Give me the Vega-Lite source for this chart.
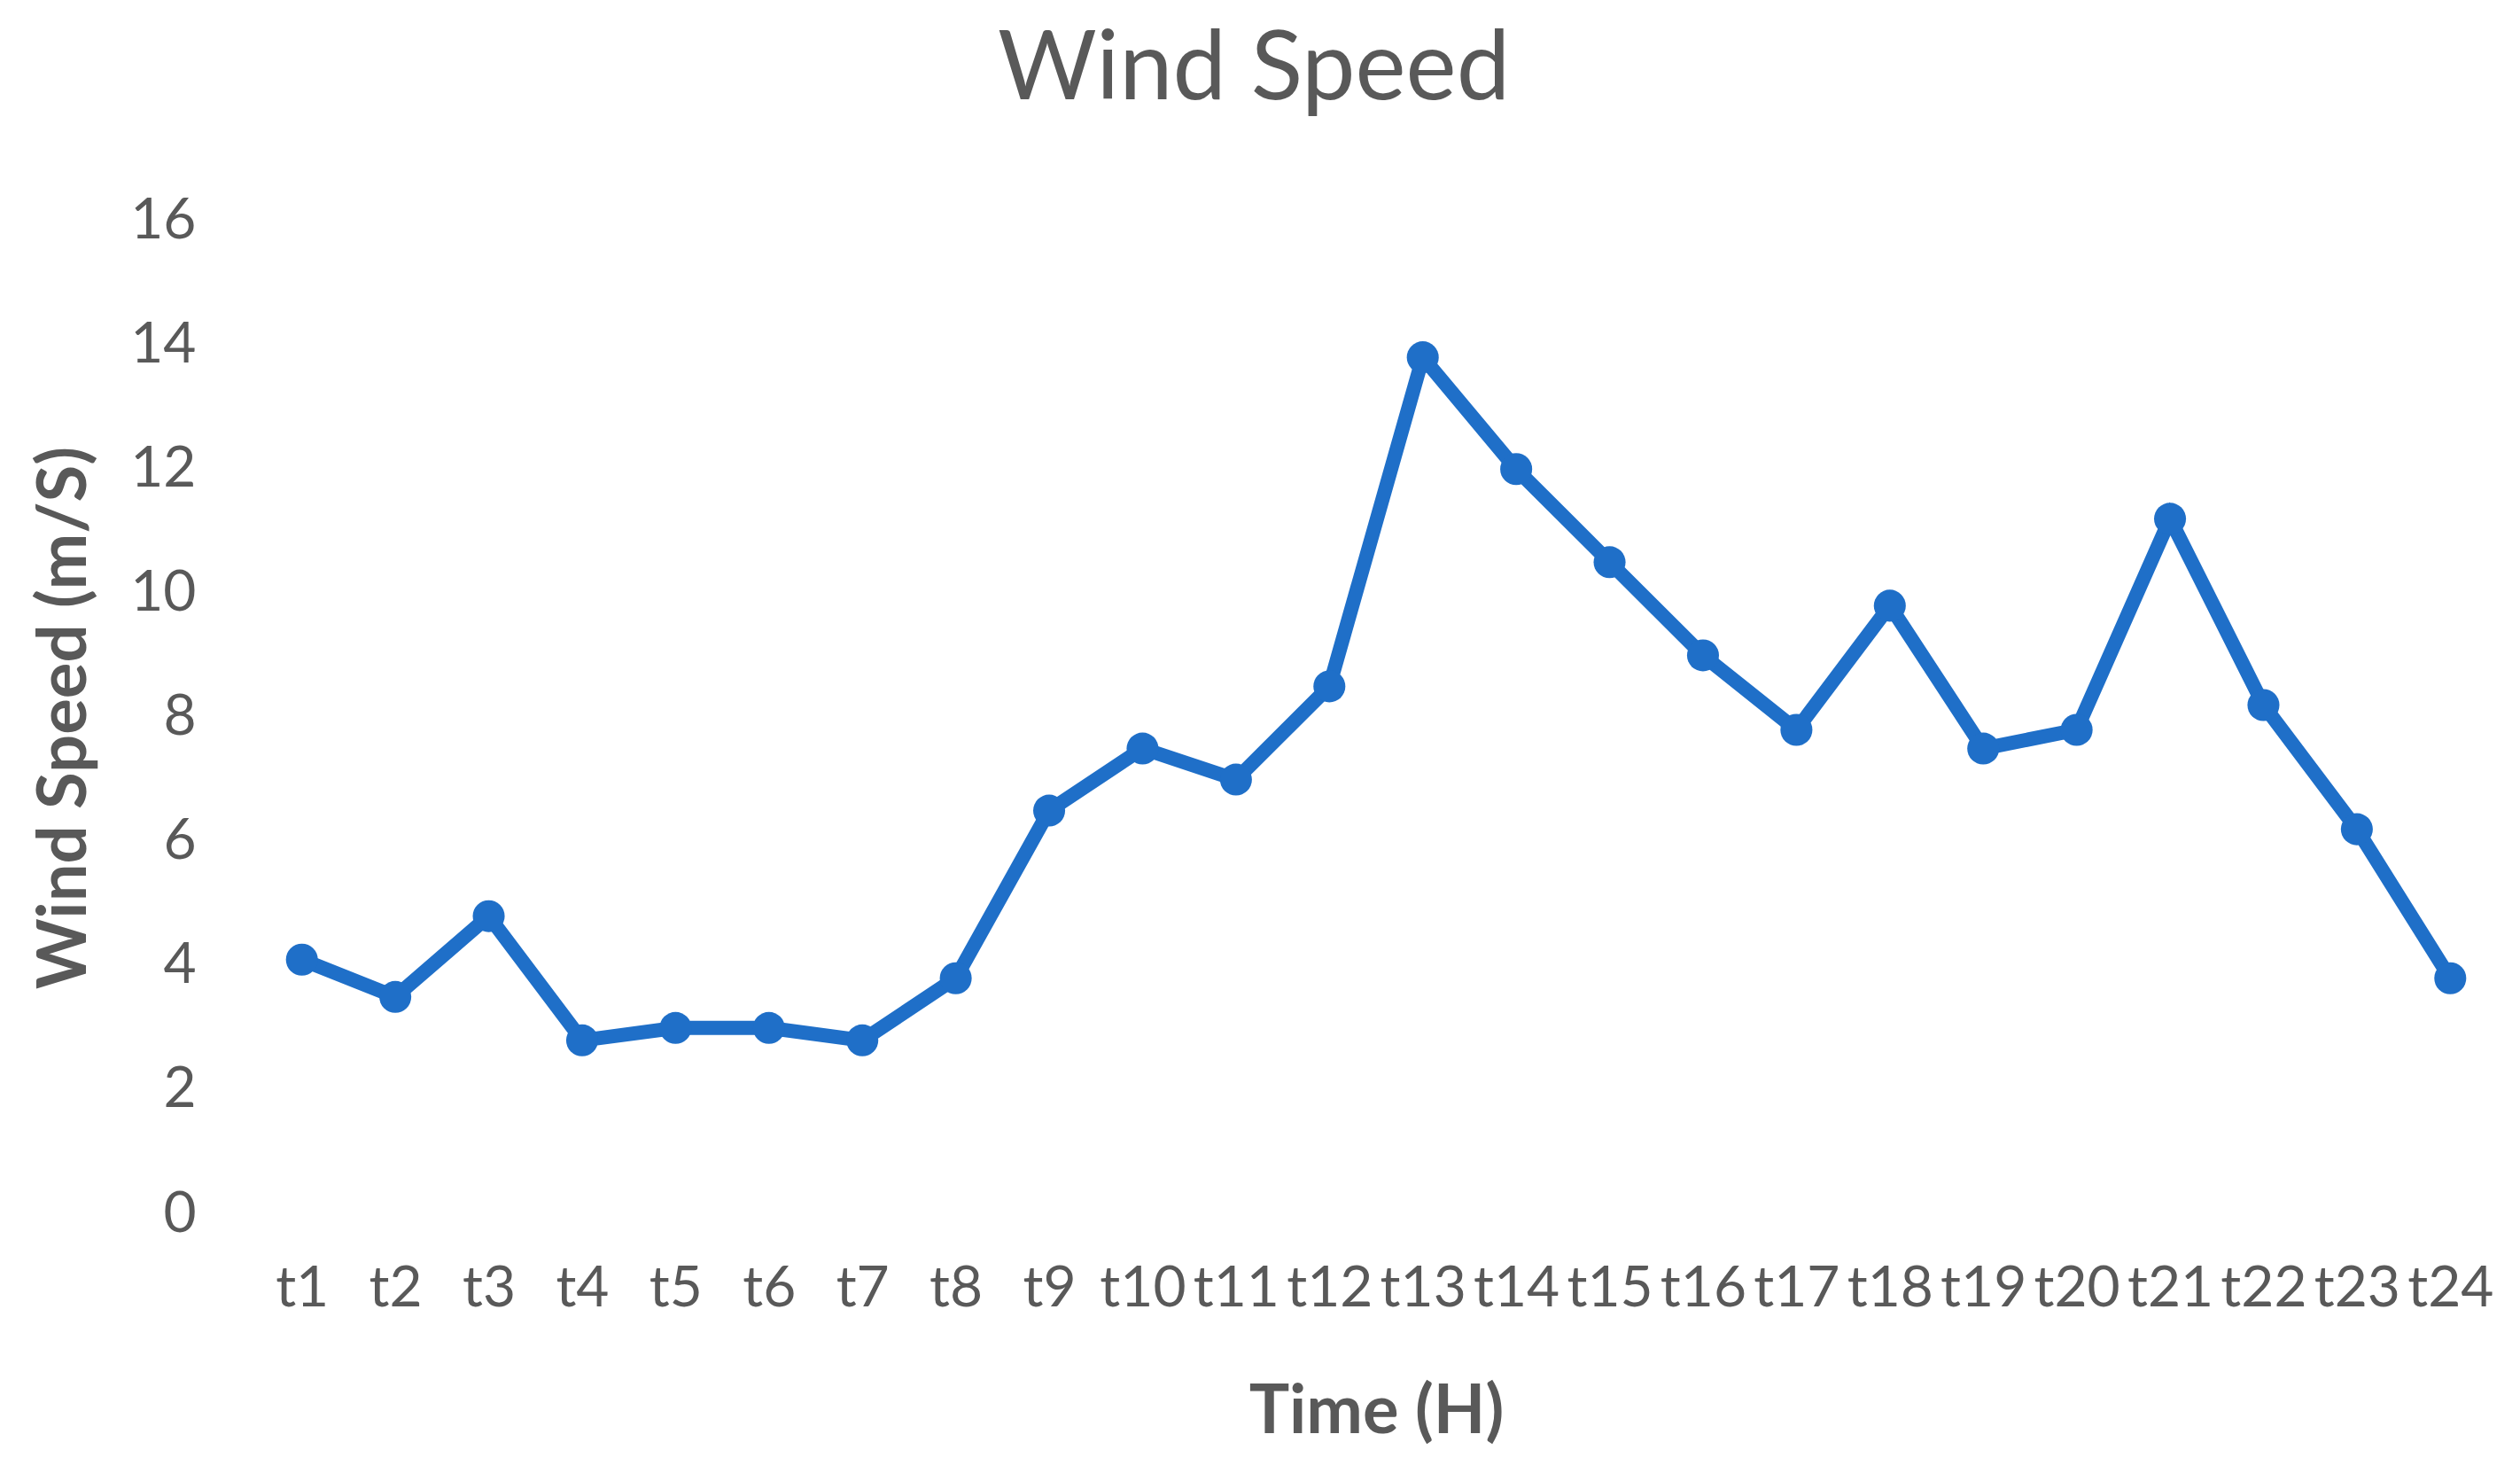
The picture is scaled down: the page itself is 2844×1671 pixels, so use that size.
{
  "$schema": "https://vega.github.io/schema/vega-lite/v6.json",
  "autosize": "none",
  "width": 2530,
  "height": 1121,
  "padding": {"left": 288, "top": 249, "right": 26, "bottom": 301},
  "background": "white",
  "view": {"stroke": null},
  "title": {
    "text": "Wind Speed",
    "font": "Lato",
    "fontSize": 108,
    "fontWeight": "normal",
    "color": "#595959",
    "anchor": "middle",
    "baseline": "alphabetic",
    "offset": 0,
    "dy": 3,
    "dx": -138
  },
  "data": {
    "values": [
      {"t": "t1", "v": 4.1},
      {"t": "t2", "v": 3.5},
      {"t": "t3", "v": 4.8},
      {"t": "t4", "v": 2.8},
      {"t": "t5", "v": 3.0},
      {"t": "t6", "v": 3.0},
      {"t": "t7", "v": 2.8},
      {"t": "t8", "v": 3.8},
      {"t": "t9", "v": 6.5},
      {"t": "t10", "v": 7.5},
      {"t": "t11", "v": 7.0},
      {"t": "t12", "v": 8.5},
      {"t": "t13", "v": 13.8},
      {"t": "t14", "v": 12.0},
      {"t": "t15", "v": 10.5},
      {"t": "t16", "v": 9.0},
      {"t": "t17", "v": 7.8},
      {"t": "t18", "v": 9.8},
      {"t": "t19", "v": 7.5},
      {"t": "t20", "v": 7.8},
      {"t": "t21", "v": 11.2},
      {"t": "t22", "v": 8.2},
      {"t": "t23", "v": 6.2},
      {"t": "t24", "v": 3.8}
    ]
  },
  "mark": {"type": "line", "color": "#1F6FC8", "strokeWidth": 16, "point": {"filled": true, "size": 1300, "color": "#1F6FC8"}},
  "encoding": {
    "x": {
      "field": "t",
      "type": "ordinal",
      "sort": null,
      "scale": {"type": "point", "padding": 0.5},
      "axis": {
        "title": "Time (H)",
        "labelAngle": 0,
        "labelFont": "Lato",
        "labelFontSize": 64,
        "labelColor": "#595959",
        "labelPadding": 52,
        "labelOverlap": false,
        "labelFlush": false,
        "labelBound": false,
        "ticks": false,
        "domain": false,
        "grid": false,
        "titleFont": "Lato",
        "titleFontSize": 76,
        "titleFontWeight": "bold",
        "titleColor": "#595959",
        "titleBaseline": "middle",
        "titleY": 223
      }
    },
    "y": {
      "field": "v",
      "type": "quantitative",
      "scale": {"domain": [0, 16]},
      "axis": {
        "title": "Wind Speed (m/S)",
        "values": [0, 2, 4, 6, 8, 10, 12, 14, 16],
        "labelFont": "Lato",
        "labelFontSize": 64,
        "labelColor": "#595959",
        "labelPadding": 67,
        "ticks": false,
        "domain": false,
        "grid": false,
        "titleFont": "Lato",
        "titleFontSize": 76,
        "titleFontWeight": "bold",
        "titleColor": "#595959",
        "titleBaseline": "middle",
        "titleAngle": -90,
        "titleX": -215
      }
    }
  }
}
